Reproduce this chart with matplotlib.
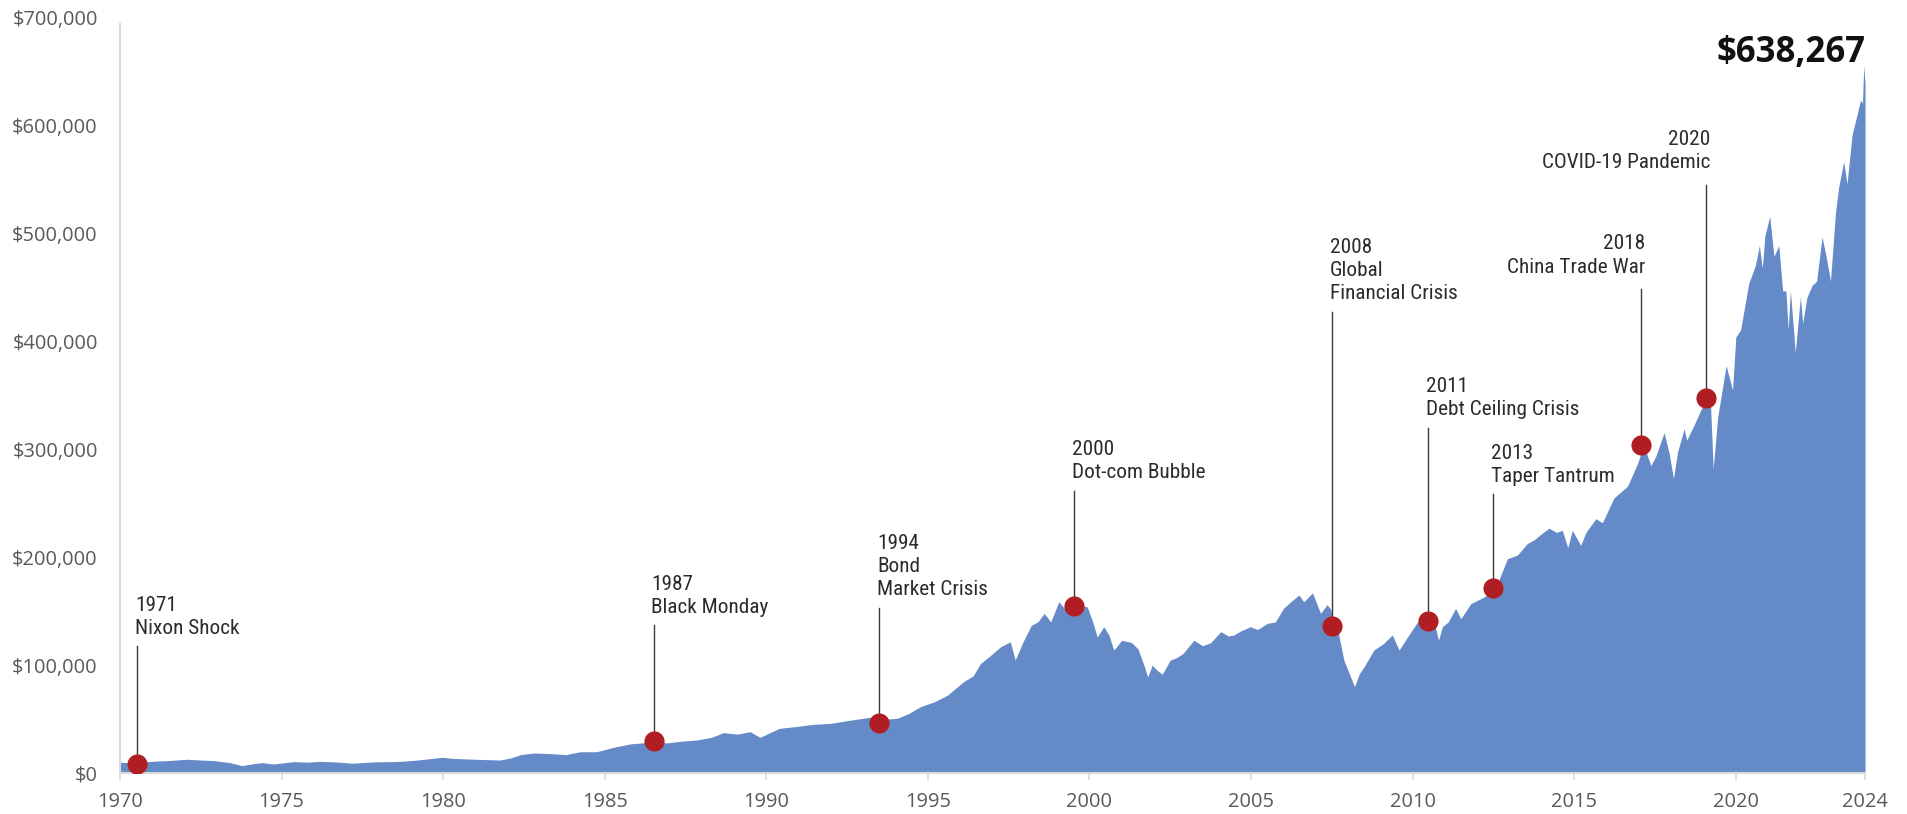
import matplotlib
matplotlib.use("Agg")
from matplotlib import pyplot as plt
from matplotlib import font_manager as fm
from matplotlib.ticker import FuncFormatter

# growth of a hypothetical investment ($ thousands)
years = [
    1970.00, 1970.30, 1970.60, 1971.10, 1971.50, 1972.06, 1972.50, 1972.90, 1973.40, 1973.77,
    1974.10, 1974.40, 1974.75, 1975.37, 1975.80, 1976.20, 1976.70, 1977.20, 1977.85, 1978.40,
    1978.80, 1979.20, 1979.97, 1980.30, 1980.70, 1981.20, 1981.76, 1982.10, 1982.40, 1982.80,
    1983.30, 1983.80, 1984.24, 1984.75, 1985.30, 1985.80, 1986.20, 1986.53, 1986.90, 1987.40,
    1987.85, 1988.30, 1988.67, 1989.10, 1989.50, 1989.80, 1990.40, 1990.90, 1991.46, 1992.00,
    1992.50, 1993.20, 1993.53, 1994.05, 1994.40, 1994.77, 1995.20, 1995.60, 1996.10, 1996.40,
    1996.63, 1996.90, 1997.25, 1997.55, 1997.70, 1997.95, 1998.20, 1998.40, 1998.60, 1998.80,
    1999.05, 1999.30, 1999.57, 1999.93, 2000.10, 2000.24, 2000.44, 2000.60, 2000.75, 2001.00,
    2001.30, 2001.50, 2001.70, 2001.80, 2001.94, 2002.10, 2002.25, 2002.50, 2002.70, 2002.90,
    2003.23, 2003.50, 2003.75, 2004.06, 2004.30, 2004.47, 2004.70, 2004.98, 2005.20, 2005.50,
    2005.75, 2006.00, 2006.20, 2006.48, 2006.63, 2006.90, 2007.15, 2007.35, 2007.46, 2007.56,
    2007.70, 2007.87, 2008.00, 2008.20, 2008.35, 2008.50, 2008.80, 2009.10, 2009.37, 2009.58,
    2009.84, 2010.15, 2010.45, 2010.65, 2010.80, 2010.92, 2011.10, 2011.33, 2011.49, 2011.80,
    2012.00, 2012.20, 2012.45, 2012.57, 2012.75, 2012.93, 2013.24, 2013.55, 2013.75, 2014.00,
    2014.22, 2014.45, 2014.63, 2014.80, 2014.94, 2015.20, 2015.36, 2015.67, 2015.87, 2016.23,
    2016.65, 2016.96, 2017.15, 2017.37, 2017.53, 2017.78, 2017.94, 2018.07, 2018.20, 2018.40,
    2018.48, 2018.71, 2018.97, 2019.14, 2019.22, 2019.30, 2019.44, 2019.70, 2019.90, 2020.00,
    2020.15, 2020.40, 2020.60, 2020.73, 2020.82, 2020.90, 2021.05, 2021.18, 2021.33, 2021.45,
    2021.55, 2021.62, 2021.69, 2021.84, 2022.00, 2022.07, 2022.20, 2022.36, 2022.50, 2022.67,
    2022.80, 2022.93, 2023.08, 2023.18, 2023.34, 2023.44, 2023.60, 2023.75, 2023.86, 2023.92,
    2023.96, 2024.00,
]
values = [
    10, 9.5, 10, 11, 11.5, 12.7, 12, 11.5, 9.6, 6.8,
    8.5, 9.6, 8.3, 10.5, 10, 10.8, 10.2, 9, 10.3, 10.5,
    11, 12, 14.5, 13.5, 13, 12.5, 12, 14, 17, 18.5,
    18, 17, 19.7, 19.7, 24, 27, 28, 30.5, 27.8, 29.5,
    30.6, 33, 37.4, 36, 38.3, 33, 41.4, 43, 45.1, 46,
    48.5, 51.6, 49.5, 50.7, 55, 61.5, 66, 72, 84.6, 90,
    101.6, 108, 117, 121.7, 104.7, 122, 137, 140, 148, 140,
    158.7, 150, 156, 154, 140, 126, 135.6, 128, 114, 123,
    121, 115, 98.5, 89, 100, 95, 91.5, 104.7, 107, 111,
    123, 118, 120.8, 131, 127, 128, 132, 135.6, 133, 138.7,
    140, 152.6, 158, 165, 158.7, 167, 148, 156, 152, 138,
    130, 104.7, 95, 80, 92, 98.5, 114, 120, 128, 114,
    126, 140, 144, 142, 123, 135.6, 140, 152.6, 143, 157,
    160, 163, 168, 171, 185, 198.6, 202, 212.8, 216, 222,
    227, 223, 225, 209, 225, 211, 223, 235.8, 232, 255,
    266, 287, 304, 285, 294, 315.6, 296, 273, 298, 319,
    308.6, 322.7, 340, 349, 340, 282, 330, 377.7, 355, 404,
    411, 454, 470, 489, 468, 498, 516, 479, 489, 447,
    447, 411, 447, 390, 441.5, 417, 441, 452, 456, 497,
    478, 456, 518, 542.6, 567, 546, 592, 610, 624, 621,
    656, 638.267,
]
values = [v * 1000 for v in values]

event_labels = [
    "1971\nNixon Shock", "1987\nBlack Monday", "1994\nBond\nMarket Crisis",
    "2000\nDot-com Bubble", "2008\nGlobal\nFinancial Crisis", "2011\nDebt Ceiling Crisis",
    "2013\nTaper Tantrum", "2018\nChina Trade War", "2020\nCOVID-19 Pandemic",
]
event_x = [1970.53, 1986.51, 1993.49, 1999.52, 2007.50, 2010.49, 2012.50, 2017.07, 2019.07]
event_y = [8300, 30100, 46400, 155100, 136600, 140900, 171200, 304100, 347700]
line_top = [117700, 137200, 153400, 261700, 427700, 320100, 258400, 448700, 545300]
label_side = ["left"] * 7 + ["right"] * 2

final_value = "$638,267"

# fonts
have = {f.name for f in fm.fontManager.ttflist}
cond_font = next((f for f in ["Roboto Condensed", "Liberation Sans Narrow", "DejaVu Sans"] if f in have), "DejaVu Sans")
tick_font = "Open Sans" if "Open Sans" in have else "DejaVu Sans"

fig = plt.figure(figsize=(19.08, 8.14), dpi=100)
ax = fig.add_axes([0.0629, 0.0504, 0.9146, 0.9275])

ax.fill_between(years, values, 0, color="#648AC7", linewidth=0)

for x, y, top, lab, side in zip(event_x, event_y, line_top, event_labels, label_side):
    ax.plot([x, x], [y, top], color="#3a3a3a", linewidth=1.0, zorder=3)
    ax.plot(x, y, "o", color="#B01E24", markersize=14.5, markeredgewidth=0, zorder=4)
    dx = -1.5 if side == "left" else 3
    gap = 6 if side == "left" else 9
    ax.annotate(lab, xy=(x, top), xytext=(dx, gap), textcoords="offset points",
                ha=side, va="bottom", fontsize=15.3, family=cond_font,
                stretch="condensed", color="#2b2b2b",
                linespacing=1.27, multialignment=side)

ax.text(2024, 659500, final_value, ha="right", va="baseline", fontsize=25,
        fontweight="bold", family=tick_font, color="#111111")

ax.set_xlim(1970, 2024)
ax.set_ylim(0, 700000)
ax.set_xticks([1970, 1975, 1980, 1985, 1990, 1995, 2000, 2005, 2010, 2015, 2020, 2024])
ax.set_yticks(range(0, 700001, 100000))
ax.yaxis.set_major_formatter(FuncFormatter(lambda v, p: "${:,.0f}".format(v)))

for lab in ax.get_xticklabels() + ax.get_yticklabels():
    lab.set_fontfamily(tick_font)
    lab.set_fontsize(14.4)
    lab.set_color("#595959")

ax.tick_params(axis="y", length=0, pad=16)
ax.tick_params(axis="x", length=5, width=1.2, color="#d9d9d9", pad=9, direction="out")

for s in ["top", "right"]:
    ax.spines[s].set_visible(False)
for s in ["left", "bottom"]:
    ax.spines[s].set_color("#d9d9d9")
    ax.spines[s].set_linewidth(1.5)
ax.spines["left"].set_bounds(0, 694000)

fig.savefig("out.png", dpi=100)
